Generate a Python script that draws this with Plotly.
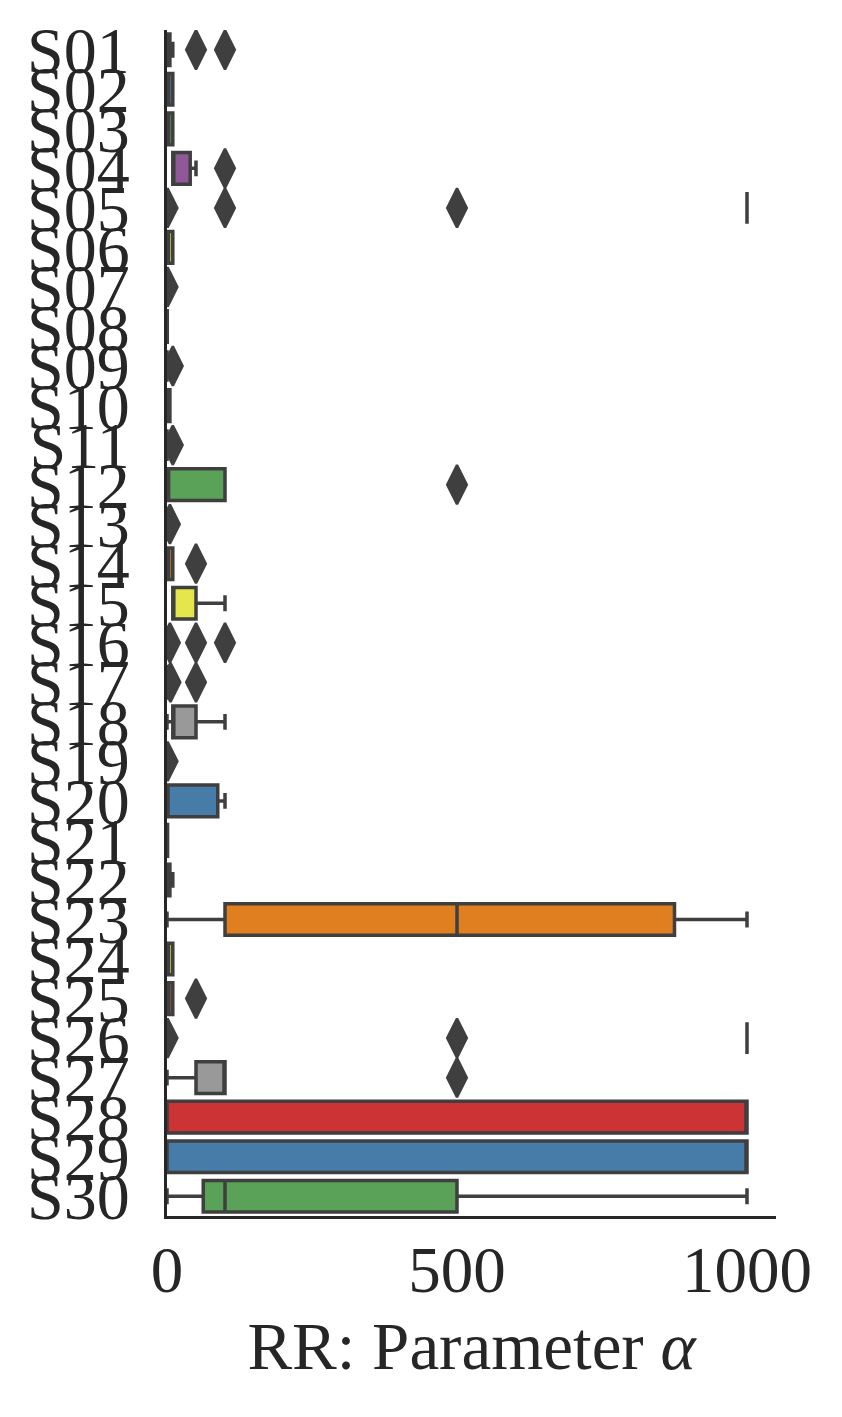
import plotly.graph_objects as go

# ---------------- data ----------------
categories = [f"S{i:02d}" for i in range(1, 31)]

lower = [0, 0, 0, 10, 1000, 0, 0, 0, 0, 0,
         0, 1, 0, 0, 10, 0, 0, 0, 0, 0,
         0, 0, 0, 0, 0, 1000, 0, 0, 0, 0]
q1 = [0.5, 1, 1, 10, 1000, 1, 0, 0, 0, 0.5,
      0, 1, 0, 1, 10, 0, 0, 10, 0, 0,
      0, 0.5, 100, 1, 1, 1000, 50, 0, 0, 62.5]
median = [1, 1, 1, 10, 1000, 1, 0, 0, 0, 1,
          0, 1, 0, 1, 10, 0, 1, 10, 0, 1,
          0.5, 1, 500, 1, 1, 1000, 100, 1000, 1000, 100]
q3 = [5, 10, 10, 40, 1000, 10, 0, 0.5, 0, 5,
      0, 100, 0, 10, 50, 0, 2, 50, 0, 87.5,
      1, 5, 875, 10, 10, 1000, 100, 1000, 1000, 500]
upper = [10, 10, 10, 50, 1000, 10, 0, 0.5, 0, 5,
         0, 100, 0, 10, 100, 0, 2, 100, 0, 100,
         1, 10, 1000, 10, 10, 1000, 100, 1000, 1000, 1000]
outliers = [[50, 100], [], [], [100], [1, 100, 500], [], [1], [], [10], [],
            [10], [500], [5], [50], [], [5, 50, 100], [6, 50], [], [1], [],
            [], [], [], [], [50], [1, 500], [500], [], [], []]

xtick_vals = [0, 500, 1000]
xtick_text = ["0", "500", "1000"]

# seaborn Set1 palette, desaturated (0.75)
palette = ["#cb3335", "#477ca8", "#59a257", "#905898", "#df7f20",
           "#e5e54c", "#965a38", "#e890be", "#999999"]

LINE = "#3f3f3f"
TEXT = "#262626"
FONT = "Liberation Serif"

fig = go.Figure()

for i, cat in enumerate(categories):
    fig.add_trace(go.Box(
        y=[cat], q1=[q1[i]], median=[median[i]], q3=[q3[i]],
        lowerfence=[lower[i]], upperfence=[upper[i]],
        orientation="h", width=0.8, whiskerwidth=0.5,
        fillcolor=palette[i % len(palette)],
        line=dict(color=LINE, width=3.5),
        boxpoints=False, showlegend=False, hoverinfo="skip",
    ))

ox, oy = [], []
for i, cat in enumerate(categories):
    for v in outliers[i]:
        ox.append(v)
        oy.append(cat)

fig.add_trace(go.Scatter(
    x=ox, y=oy, mode="markers", showlegend=False, hoverinfo="skip",
    marker=dict(symbol="diamond-tall", size=28, color=LINE,
                line=dict(color=LINE, width=2.5)),
    cliponaxis=True,
))

fig.update_layout(
    width=842, height=1417,
    margin=dict(l=159, r=74, t=22, b=209),
    paper_bgcolor="white", plot_bgcolor="white",
    boxmode="overlay",
    font=dict(family=FONT, size=65, color=TEXT),
)

fig.update_xaxes(
    range=[0, 1050], tickvals=xtick_vals, ticktext=xtick_text,
    showgrid=False, zeroline=False, ticks="", automargin=False,
    showline=True, linecolor=TEXT, linewidth=3,
    tickfont=dict(family=FONT, size=65, color=TEXT),
    ticklabelstandoff=-5,
    title=dict(text="RR: Parameter <i>α</i>",
               font=dict(family=FONT, size=67, color=TEXT), standoff=18),
)

fig.update_yaxes(
    type="category", categoryorder="array", categoryarray=categories,
    tickmode="array", tickvals=categories, ticktext=categories,
    range=[29.5, -0.5],
    showgrid=False, zeroline=False, ticks="", automargin=False,
    showline=True, linecolor=TEXT, linewidth=3,
    tickfont=dict(family=FONT, size=66, color=TEXT),
    ticklabelstandoff=21,
)

fig.write_html("out.html")
